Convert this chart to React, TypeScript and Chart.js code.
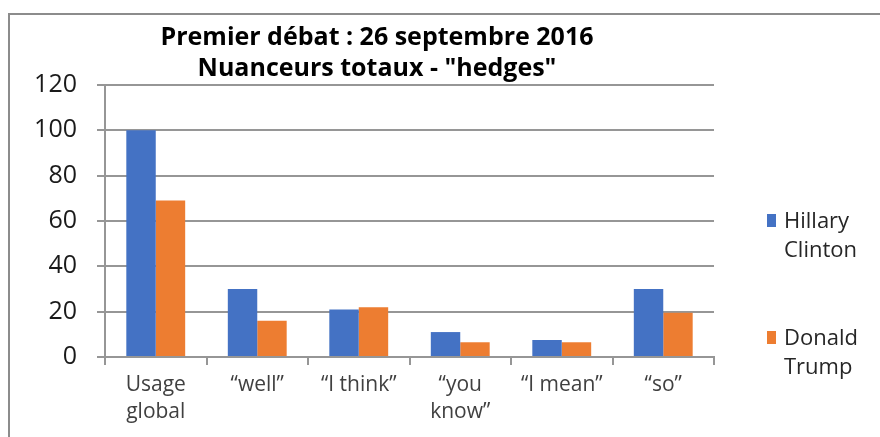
import React, { useEffect, useRef } from "react";
import { Chart, registerables } from "chart.js";

Chart.register(...registerables);

const titleLines = ["Premier débat : 26 septembre 2016", 'Nuanceurs totaux - "hedges"'];
const categories: (string | string[])[] = [
  ["Usage", "global"],
  "“well”",
  "“I think”",
  ["“you", "know”"],
  "“I mean”",
  "“so”",
];
const seriesNames = ["Hillary Clinton", "Donald Trump"];
const hillary = [100, 30, 21, 11, 7.5, 30];
const trump = [69, 16, 22, 6.5, 6.5, 19.5];
const seriesColors = ["#4472C4", "#ED7D31"];
const yMin = 0;
const yMax = 120;
const yStep = 20;

const FONT = "'Open Sans', 'DejaVu Sans', sans-serif";

const decorPlugin = {
  id: "decor",
  beforeDraw(chart: any) {
    const ctx = chart.ctx;
    ctx.save();
    ctx.fillStyle = "#ffffff";
    ctx.fillRect(0, 0, chart.width, chart.height);
    ctx.restore();
  },
  afterDraw(chart: any) {
    const ctx = chart.ctx;
    ctx.save();
    // outer frame
    ctx.strokeStyle = "#8c8c8c";
    ctx.lineWidth = 2;
    ctx.strokeRect(9, 14, 2000, 2000);
    // title
    ctx.fillStyle = "#000000";
    ctx.font = `bold 25px ${FONT}`;
    ctx.textAlign = "center";
    ctx.textBaseline = "middle";
    const tl = [38, 69];
    titleLines.forEach((t, i) => ctx.fillText(t, 377, tl[i]));
    // legend
    const legendY = [222, 339];
    ctx.textAlign = "left";
    ctx.font = `22px ${FONT}`;
    chart.data.datasets.forEach((ds: any, i: number) => {
      const y0 = legendY[i];
      ctx.fillStyle = ds.backgroundColor;
      ctx.fillRect(767, y0 - 8, 9, 13);
      ctx.fillStyle = "#262626";
      const words = String(ds.label).split(" ");
      words.forEach((w: string, j: number) => ctx.fillText(w, 784, y0 + j * 29));
    });
    ctx.restore();
  },
};

export default function App() {
  const ref = useRef<HTMLCanvasElement | null>(null);
  useEffect(() => {
    if (!ref.current) return;
    const chart = new Chart(ref.current, {
      type: "bar",
      data: {
        labels: categories,
        datasets: [
          { label: seriesNames[0], data: hillary, backgroundColor: seriesColors[0] },
          { label: seriesNames[1], data: trump, backgroundColor: seriesColors[1] },
        ],
      },
      options: {
        responsive: false,
        animation: false,
        devicePixelRatio: 1,
        layout: { padding: { left: 0, right: 166, top: 85, bottom: 0 } },
        datasets: { bar: { categoryPercentage: 0.58, barPercentage: 1 } },
        plugins: {
          legend: { display: false },
          title: { display: false },
          tooltip: { enabled: false },
        },
        scales: {
          x: {
            afterFit: (s: any) => {
              s.height = 80;
            },
            grid: {
              display: true,
              drawOnChartArea: false,
              drawTicks: true,
              tickLength: 8,
              color: "#969696",
              lineWidth: 2,
            },
            border: { display: true, color: "#969696", width: 2 },
            ticks: {
              color: "#404040",
              padding: 6,
              maxRotation: 0,
              autoSkip: false,
              font: { family: FONT, size: 21, lineHeight: 1.3 },
            },
          },
          y: {
            min: yMin,
            max: yMax,
            afterFit: (s: any) => {
              s.width = 105;
            },
            grid: {
              color: "#969696",
              lineWidth: 2,
              drawTicks: true,
              tickLength: 8,
            },
            border: { display: true, color: "#969696", width: 2 },
            ticks: {
              stepSize: yStep,
              color: "#1a1a1a",
              padding: 20,
              font: { family: FONT, size: 25 },
            },
          },
        },
      },
      plugins: [decorPlugin],
    });
    return () => chart.destroy();
  }, []);
  return (
    <div style={{ position: "absolute", left: 0, top: 0, width: 880, height: 437 }}>
      <canvas ref={ref} width={880} height={437} />
    </div>
  );
}
